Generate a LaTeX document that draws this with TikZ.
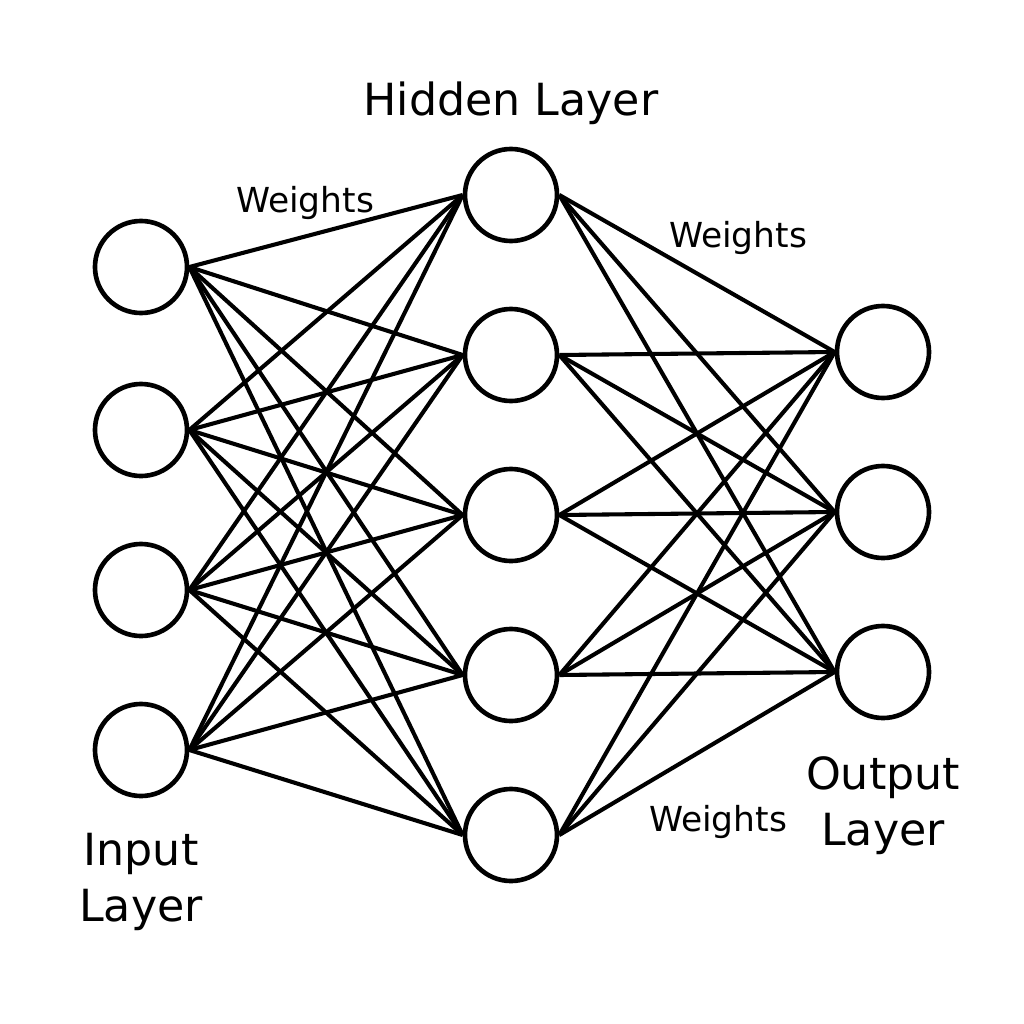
\documentclass[tikz,border=0pt]{standalone}
\usepackage{fontspec}
\setmainfont{DejaVu Sans}

\begin{document}
\begin{tikzpicture}[x=0.025cm, y=-0.025cm]

        \def\inx{141}        % x of the input layer
        \def\hidx{511}       % x of the hidden layer
        \def\outx{883}       % x of the output layer
        \def\siz{2.3}        % neuronsize
        \tikzstyle{neuron}=[circle,draw=black,line width=3.3pt,minimum size=\siz cm,inner sep=0pt]
        \tikzstyle{weight}=[line width=2.9pt]
        \tikzset{fontscale/.style 2 args = {font={\fontsize{#1pt}{#2pt}\selectfont}}}

        \useasboundingbox (0,0) rectangle (1024,1024);

        % Draw the input layer nodes
        \foreach \n/\y in {1/267,2/430,3/590,4/750}
                \node[neuron] (Il-\n) at (\inx,\y) {};

        % Draw the hidden layer nodes
        \foreach \n/\y in {1/195,2/355,3/515,4/675,5/835}
                \node[neuron] (Hl-\n) at (\hidx,\y) {};

        % Draw the output layer nodes
        \foreach \n/\y in {1/352,2/512,3/672}
                \node[neuron] (Ol-\n) at (\outx,\y) {};

        % Connect the neurons
        \foreach \source in {1,...,4}
                \foreach \dest in {1,...,5}
                        \draw[weight] (Il-\source.east) -- (Hl-\dest.west);
        \foreach \source in {1,...,5}
                \foreach \dest in {1,...,3}
                        \draw[weight] (Hl-\source.east) -- (Ol-\dest.west);

        % Layer and weight labels
        \node[fontscale={31.5}{40}] (hidlab) at (\hidx,103) {Hidden Layer};
        \node[fontscale={31.5}{40},align=center] (inlab) at (\inx,882) {Input\\Layer};
        \node[fontscale={31.5}{40},align=center] (outlab) at (\outx,806) {Output\\Layer};
        \node[fontscale={24.5}{28}] (wlab-1) at (305,203) {Weights};
        \node[fontscale={24.5}{28}] (wlab-2) at (738,238) {Weights};
        \node[fontscale={24.5}{28}] (wlab-3) at (718,822) {Weights};

\end{tikzpicture}
\end{document}
